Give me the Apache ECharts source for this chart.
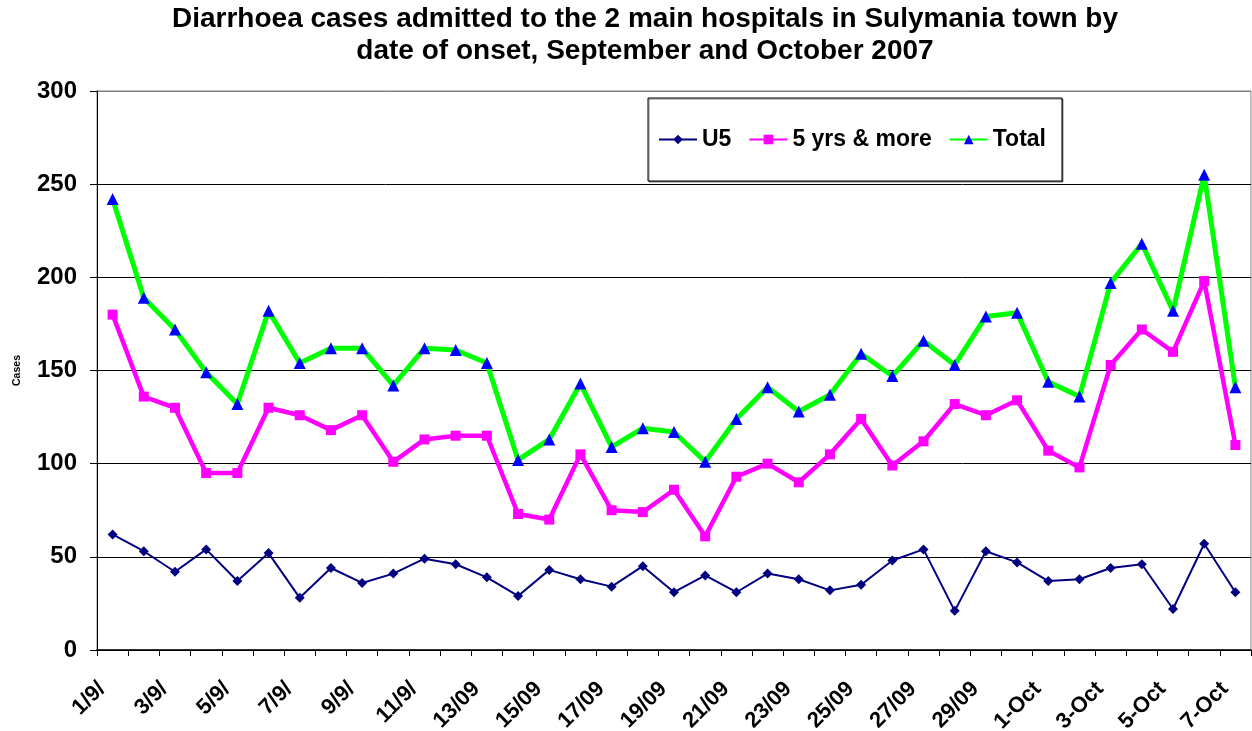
<!DOCTYPE html>
<html>
<head>
<meta charset="utf-8">
<script src="https://cdn.jsdelivr.net/npm/echarts@6/dist/echarts.min.js"></script>
<style>
  html, body { margin: 0; padding: 0; background: #fff; }
  #main { width: 1252px; height: 731px; }
</style>
</head>
<body>
<div id="main"></div>
<script>
  // dates of onset, 1 Sept - 7 Oct 2007
  var days = ['1/9/','2/9/','3/9/','4/9/','5/9/','6/9/','7/9/','8/9/','9/9/','10/9/',
    '11/9/','12/9/','13/09','14/09','15/09','16/09','17/09','18/09','19/09','20/09',
    '21/09','22/09','23/09','24/09','25/09','26/09','27/09','28/09','29/09','30/09',
    '1-Oct','2-Oct','3-Oct','4-Oct','5-Oct','6-Oct','7-Oct'];

  var under5 = [62,53,42,54,37,52,28,44,36,41,49,46,39,29,43,38,34,45,31,40,
    31,41,38,32,35,48,54,21,53,47,37,38,44,46,22,57,31];

  var fiveAndMore = [180,136,130,95,95,130,126,118,126,101,113,115,115,73,70,105,75,74,86,61,
    93,100,90,105,124,99,112,132,126,134,107,98,153,172,160,198,110];

  var total = [242,189,172,149,132,182,154,162,162,142,162,161,154,102,113,143,109,119,117,101,
    124,141,128,137,159,147,166,153,179,181,144,136,197,218,182,255,141];

  var yTicks = { min: 0, max: 300, interval: 50 };

  var chart = echarts.init(document.getElementById('main'));
  var font = 'Liberation Sans, Arial, sans-serif';

  chart.setOption({
    animation: false,
    textStyle: { fontFamily: font },
    title: {
      text: 'Diarrhoea cases admitted to the 2 main hospitals in Sulymania town by\ndate of onset, September and October 2007',
      left: 640,
      textAlign: 'center',
      top: -2,
      textStyle: { fontFamily: font, fontSize: 28, fontWeight: 'bold', lineHeight: 32, color: '#000' }
    },
    legend: {
      left: 648,
      top: 98,
      padding: [30, 16, 30, 10],
      itemGap: 17,
      itemWidth: 38,
      itemHeight: 12,
      backgroundColor: '#fff',
      borderColor: '#000',
      borderWidth: 1,
      shadowColor: 'rgba(0,0,0,0.5)',
      shadowOffsetX: 1,
      shadowOffsetY: 1,
      textStyle: { fontFamily: font, fontSize: 23, fontWeight: 'bold', color: '#000' },
      data: ['U5', '5 yrs & more', 'Total']
    },
    grid: {
      left: 97, right: 1, top: 91, bottom: 81,
      containLabel: false,
      outerBoundsMode: 'none',
      show: true, borderColor: '#808080', borderWidth: 1
    },
    xAxis: {
      type: 'category',
      data: days,
      boundaryGap: true,
      axisLine: { lineStyle: { color: '#000', width: 1.5 } },
      axisTick: { show: true, length: 6, interval: 0, lineStyle: { color: '#000' } },
      axisLabel: {
        interval: 1,
        rotate: 45,
        margin: 25,
        padding: [0, 15, 0, 0],
        fontFamily: font,
        fontSize: 22,
        fontWeight: 'bold',
        color: '#000'
      }
    },
    yAxis: {
      type: 'value',
      min: yTicks.min,
      max: yTicks.max,
      interval: yTicks.interval,
      name: 'Cases',
      nameLocation: 'middle',
      nameGap: 74,
      nameTextStyle: { fontFamily: font, fontSize: 10.5, fontWeight: 'bold', color: '#000' },
      axisLine: { show: true, lineStyle: { color: '#000', width: 1 } },
      axisTick: { show: true, length: 7, lineStyle: { color: '#000' } },
      splitLine: { lineStyle: { color: ['#000', '#000', '#000', '#000', '#000', '#000', '#808080'], width: 1 } },
      axisLabel: { margin: 20, fontFamily: font, fontSize: 24, fontWeight: 'bold', color: '#000' }
    },
    series: [
      {
        name: 'U5',
        type: 'line',
        data: under5,
        symbol: 'diamond',
        symbolSize: 10,
        z: 4,
        lineStyle: { color: '#000080', width: 2 },
        itemStyle: { color: '#000080' }
      },
      {
        name: '5 yrs & more',
        type: 'line',
        data: fiveAndMore,
        symbol: 'rect',
        symbolSize: 10,
        z: 3,
        lineStyle: { color: '#FF00FF', width: 4.5 },
        itemStyle: { color: '#FF00FF' }
      },
      {
        name: 'Total',
        type: 'line',
        data: total,
        symbol: 'triangle',
        symbolSize: 12,
        z: 2,
        lineStyle: { color: '#00FF00', width: 5 },
        itemStyle: { color: '#0000FF' }
      }
    ]
  });
</script>
</body>
</html>
